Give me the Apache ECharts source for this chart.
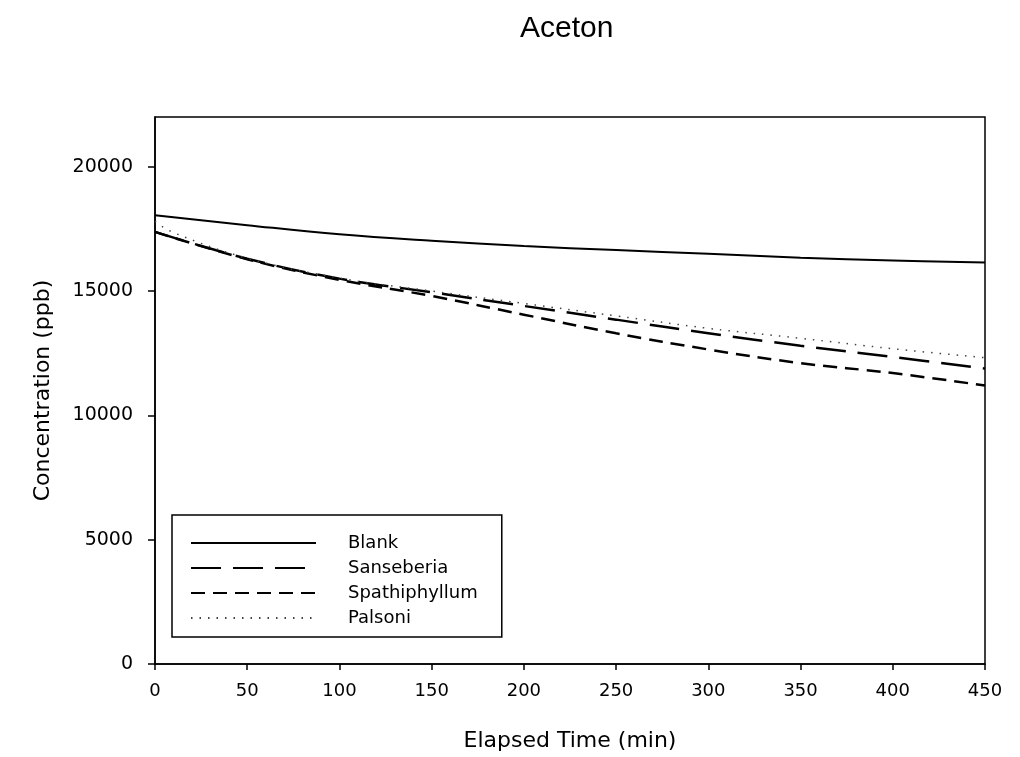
<!DOCTYPE html>
<html><head><meta charset="utf-8">
<script src="https://cdn.jsdelivr.net/npm/echarts@6/dist/echarts.min.js"></script>
<style>html,body{margin:0;padding:0;background:#fff}#c{width:1020px;height:757px}</style>
</head><body><div id="c"></div>
<script>
var seriesNames = ['Blank', 'Sanseberia', 'Spathiphyllum', 'Palsoni'];
var blankTime = [0, 50, 100, 150, 200, 250, 300, 350, 400, 450];
var blankVals = [18050, 17650, 17280, 17020, 16810, 16650, 16500, 16340, 16230, 16150];
var sansTime = [0, 50, 100, 150, 200, 250, 300, 350, 400, 450];
var sansVals = [17380, 16300, 15500, 14950, 14400, 13850, 13300, 12800, 12350, 11880];
var spathTime = [0, 50, 100, 150, 200, 250, 300, 350, 400, 450];
var spathVals = [17380, 16280, 15450, 14800, 14050, 13300, 12650, 12100, 11700, 11200];
var palsTime = [0, 10, 50, 100, 150, 200, 250, 300, 350, 400, 450];
var palsVals = [17800, 17350, 16320, 15520, 15000, 14500, 14000, 13500, 13100, 12680, 12320];
var xTicks = [0, 50, 100, 150, 200, 250, 300, 350, 400, 450];
var yTicks = [0, 5000, 10000, 15000, 20000];

function pairs(t, v) { return t.map(function (x, i) { return [x, v[i]]; }); }
var F = 'Liberation Sans, Arial, sans-serif';
var D = 'DejaVu Sans, sans-serif';
var chart = echarts.init(document.getElementById('c'));
chart.setOption({
  animation: false,
  backgroundColor: '#fff',
  title: { text: 'Aceton', left: 515, top: 9,
    textStyle: { fontFamily: F, fontSize: 30, fontWeight: 'normal', color: '#000' } },
  grid: { left: 155, right: 35, top: 117, bottom: 93, outerBoundsMode: 'none', containLabel: false,
    show: true, borderColor: '#000', borderWidth: 1.5, backgroundColor: 'transparent' },
  legend: {
    orient: 'vertical', left: 172, top: 515,
    data: seriesNames,
    itemWidth: 125, itemHeight: 14, itemGap: 7,
    padding: [19, 24, 10, 18],
    borderColor: '#000', borderWidth: 1.5,
    itemStyle: { opacity: 0, borderWidth: 0 },
    textStyle: { fontFamily: D, fontSize: 18, color: '#000', padding: [0, 0, 0, 27] }
  },
  xAxis: {
    type: 'value', min: 0, max: 450, interval: 50,
    name: 'Elapsed Time (min)', nameLocation: 'middle', nameGap: 66,
    nameTextStyle: { fontFamily: D, fontSize: 22, color: '#000' },
    axisLine: { lineStyle: { color: '#000', width: 1.5 } },
    axisTick: { show: true, inside: false, length: 6, lineStyle: { color: '#000', width: 1.5 } },
    axisLabel: { fontFamily: D, fontSize: 18, color: '#000', margin: 18,
      formatter: function (v) { return String(v); } },
    splitLine: { show: false }
  },
  yAxis: {
    type: 'value', min: 0, max: 22000, interval: 5000,
    name: 'Concentration (ppb)', nameLocation: 'middle', nameGap: 101, nameRotate: 90,
    nameTextStyle: { fontFamily: D, fontSize: 22, color: '#000' },
    axisLine: { lineStyle: { color: '#000', width: 1.5 } },
    axisTick: { show: true, inside: false, length: 7, lineStyle: { color: '#000', width: 1.5 }, customValues: yTicks },
    axisLabel: { fontFamily: D, fontSize: 19, color: '#000', margin: 22, customValues: yTicks,
      formatter: function (v) { return String(v); } },
    splitLine: { show: false }
  },
  series: [
    { name: seriesNames[0], type: 'line', smooth: 0.4, symbol: 'none', data: pairs(blankTime, blankVals),
      lineStyle: { color: '#000', width: 2, type: 'solid' } },
    { name: seriesNames[1], type: 'line', smooth: 0.4, symbol: 'none', data: pairs(sansTime, sansVals),
      lineStyle: { color: '#000', width: 2.5, type: [30, 12] } },
    { name: seriesNames[2], type: 'line', smooth: 0.4, symbol: 'none', data: pairs(spathTime, spathVals),
      lineStyle: { color: '#000', width: 2.5, type: [14, 8] } },
    { name: seriesNames[3], type: 'line', smooth: 0.4, symbol: 'none', data: pairs(palsTime, palsVals),
      lineStyle: { color: '#444', width: 1.5, type: [1.5, 7] } }
  ]
});
</script></body></html>
